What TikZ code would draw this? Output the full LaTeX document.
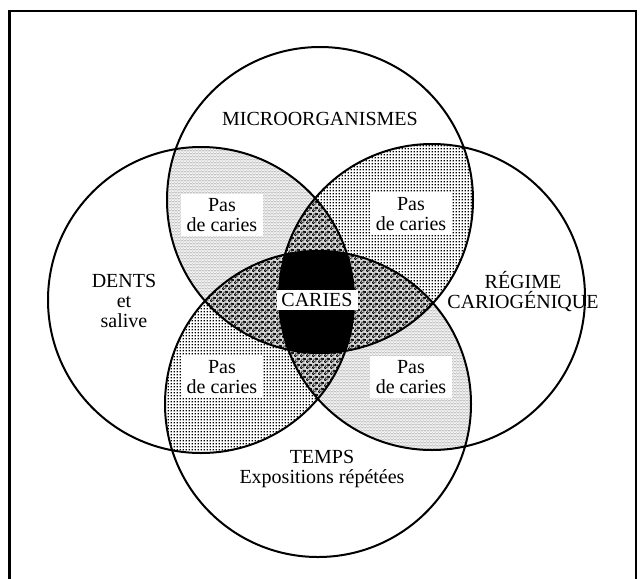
\documentclass[tikz,border=0pt]{standalone}
\usepackage{fontspec}
\setmainfont{Liberation Serif}
\usetikzlibrary{patterns.meta}

\tikzdeclarepattern{name=hexdots, type=colored,
  bottom left={(0pt,0pt)}, top right={(3pt,3pt)}, tile size={(3pt,3pt)},
  code={\fill[black] (0pt,0pt) circle[radius=0.62pt];
        \fill[black] (3pt,0pt) circle[radius=0.62pt];
        \fill[black] (0pt,3pt) circle[radius=0.62pt];
        \fill[black] (3pt,3pt) circle[radius=0.62pt];
        \fill[black] (1.5pt,1.5pt) circle[radius=0.62pt];}}
\tikzdeclarepattern{name=griddots, type=colored,
  bottom left={(0pt,0pt)}, top right={(2.7pt,2.7pt)}, tile size={(2.7pt,2.7pt)},
  code={\fill[black] (0.65pt,0.65pt) rectangle (2.05pt,2.05pt);}}
\tikzdeclarepattern{name=ringdots, type=colored,
  bottom left={(0pt,0pt)}, top right={(6pt,6pt)}, tile size={(6pt,6pt)},
  code={\draw[black,line width=0.7pt] (1.5pt,1.5pt) circle[radius=1.3pt];
        \draw[black,line width=0.7pt] (4.5pt,4.5pt) circle[radius=1.3pt];
        \fill[black] (4.5pt,1.5pt) circle[radius=0.6pt];
        \fill[black] (1.5pt,4.5pt) circle[radius=0.6pt];}}

\begin{document}
\begin{tikzpicture}[x=1pt,y=-1pt,
  ringline/.style={line width=2pt},
  lbl/.style={font=\fontsize{20}{20}\selectfont, align=center, inner sep=0pt},
  pas/.style={lbl, fill=white, inner xsep=6pt, inner ysep=4pt},
  triple/.style={fill=black!15},
  framel/.style={line width=2.5pt}]
\useasboundingbox (0,0) rectangle (644,578);
\def\R{153}
\coordinate (T) at (320,200);
\coordinate (L) at (201,300);
\coordinate (Rc) at (432,297);
\coordinate (B) at (318,404);

% pairwise regions
\begin{scope}\clip (T) circle[radius=\R]; \fill[pattern=hexdots] (L) circle[radius=\R];\end{scope}
\begin{scope}\clip (T) circle[radius=\R]; \fill[pattern=griddots] (Rc) circle[radius=\R];\end{scope}
\begin{scope}\clip (B) circle[radius=\R]; \fill[pattern=griddots] (L) circle[radius=\R];\end{scope}
\begin{scope}\clip (B) circle[radius=\R]; \fill[pattern=hexdots] (Rc) circle[radius=\R];\end{scope}

% triple regions
\begin{scope}\clip (T) circle[radius=\R]; \clip (L) circle[radius=\R];
  \fill[triple] (Rc) circle[radius=\R]; \fill[pattern=ringdots] (Rc) circle[radius=\R];\end{scope}
\begin{scope}\clip (B) circle[radius=\R]; \clip (L) circle[radius=\R];
  \fill[triple] (Rc) circle[radius=\R]; \fill[pattern=ringdots] (Rc) circle[radius=\R];\end{scope}
\begin{scope}\clip (T) circle[radius=\R]; \clip (B) circle[radius=\R];
  \fill[triple] (L) circle[radius=\R]; \fill[pattern=ringdots] (L) circle[radius=\R];
  \fill[triple] (Rc) circle[radius=\R]; \fill[pattern=ringdots] (Rc) circle[radius=\R];\end{scope}

% all four
\begin{scope}\clip (T) circle[radius=\R]; \clip (L) circle[radius=\R]; \clip (Rc) circle[radius=\R];
  \fill[black] (B) circle[radius=\R];\end{scope}

% outlines
\draw[ringline] (T) circle[radius=\R];
\draw[ringline] (L) circle[radius=\R];
\draw[ringline] (Rc) circle[radius=\R];
\draw[ringline] (B) circle[radius=\R];

% labels
\node[lbl] (micro) at (320,119) {MICROORGANISMES};
\node[lbl] (dents) at (124,301) {DENTS\\et\\salive};
\node[lbl] (regime) at (523,292) {RÉGIME\\CARIOGÉNIQUE};
\node[lbl] (temps) at (322,469) {TEMPS\\Expositions répétées};
\node[pas] (p1) at (222,215) {Pas\\de caries};
\node[pas] (p2) at (411,214) {Pas\\de caries};
\node[pas] (p3) at (222,377) {Pas\\de caries};
\node[pas] (p4) at (411,377) {Pas\\de caries};
\node[lbl, fill=white, minimum width=81pt, minimum height=20pt] (caries) at (317,300) {CARIES};

% frame
\coordinate (f1) at (9.5,578);
\coordinate (f2) at (9.5,11);
\coordinate (f3) at (636,11);
\coordinate (f4) at (636,578);
\draw[framel, line cap=rect] (f1) -- (f2) -- (f3) -- (f4);
\end{tikzpicture}
\end{document}
